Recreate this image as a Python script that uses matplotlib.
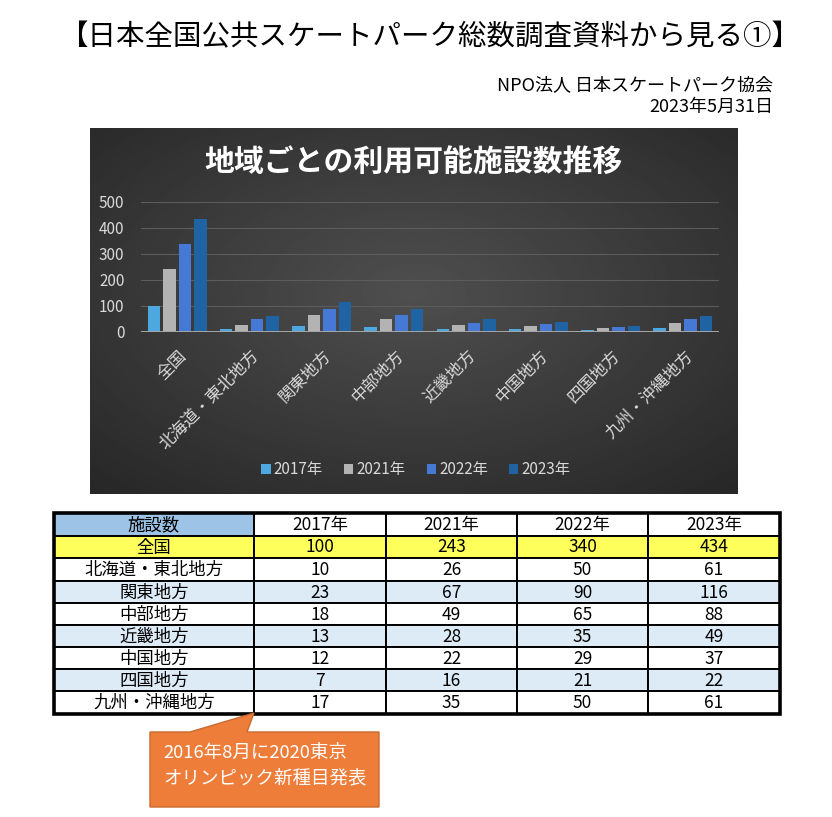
import numpy as np
import matplotlib as mpl
mpl.use('Agg')
import matplotlib.pyplot as plt
from matplotlib.patches import Rectangle, Polygon
from matplotlib.transforms import ScaledTranslation

plt.rcParams['font.family'] = ['Noto Sans CJK JP', 'DejaVu Sans']

W, H = 832, 817

regions = ['全国', '北海道・東北地方', '関東地方', '中部地方', '近畿地方',
           '中国地方', '四国地方', '九州・沖縄地方']
years = ['2017年', '2021年', '2022年', '2023年']
v2017 = [100, 10, 23, 18, 13, 12, 7, 17]
v2021 = [243, 26, 67, 49, 28, 22, 16, 35]
v2022 = [340, 50, 90, 65, 35, 29, 21, 50]
v2023 = [434, 61, 116, 88, 49, 37, 22, 61]
series = [v2017, v2021, v2022, v2023]
yticks = [0, 100, 200, 300, 400, 500]

main_title = '【日本全国公共スケートパーク総数調査資料から見る①】'
org_text = 'NPO法人 日本スケートパーク協会'
date_text = '2023年5月31日'
chart_title = '地域ごとの利用可能施設数推移'
table_corner = '施設数'
note_lines = ['2016年8月に2020東京', 'オリンピック新種目発表']

bar_colors = ['#4ea8e0', '#b3b3b3', '#4679d6', '#1f63a2']


def box(x0, y0, x1, y1):
    # pixel box (top-left origin) -> figure rect
    return [x0 / W, 1 - y1 / H, (x1 - x0) / W, (y1 - y0) / H]


fig = plt.figure(figsize=(8.32, 8.17), dpi=100)

# overlay in pixel coords for header, table, callout
ov = fig.add_axes([0, 0, 1, 1])
ov.set_xlim(0, W)
ov.set_ylim(H, 0)
ov.axis('off')

ov.text(430, 37, main_title, ha='center', va='center', fontsize=20.5)
ov.text(773, 85, org_text, ha='right', va='center', fontsize=13)
ov.text(773, 107, date_text, ha='right', va='center', fontsize=13)

# chart panel with radial gradient
bg = fig.add_axes(box(90, 128, 738, 494))
yy, xx = np.mgrid[-1:1:200j, -1:1:300j]
r = np.sqrt(xx**2 + (yy + 0.1)**2) / np.sqrt(2)
grad = 0.31 - 0.15 * r
bg.imshow(grad, cmap='gray', vmin=0, vmax=1, aspect='auto',
          extent=[0, 1, 0, 1], interpolation='bilinear')
bg.set_xticks([])
bg.set_yticks([])
for s in bg.spines.values():
    s.set_visible(False)

bg.text((414 - 90) / (738 - 90), 1 - (162 - 128) / (494 - 128), chart_title,
        transform=bg.transAxes, ha='center', va='center', color='white',
        fontsize=21.5, fontweight='bold')

ax = fig.add_axes(box(141, 202, 719, 332))
ax.patch.set_alpha(0)
x = np.arange(len(regions))
pitch, bw = 0.214, 0.172
handles = []
for i, (vals, col, yr) in enumerate(zip(series, bar_colors, years)):
    b = ax.bar(x + (i - 1.5) * pitch, vals, width=bw, color=col, label=yr, zorder=3)
    handles.append(b)
ax.set_xlim(-0.5, len(regions) - 0.5)
ax.set_ylim(0, 500)
ax.set_yticks(yticks)
ax.set_yticklabels([str(t) for t in yticks])
for t in yticks[1:]:
    ax.axhline(t, color='#5c5c5c', lw=0.8, zorder=1)
ax.axhline(0, color='#a6a6a6', lw=1.4, zorder=4)
for s in ax.spines.values():
    s.set_visible(False)
ax.tick_params(axis='y', length=0, pad=12, labelsize=11, labelcolor='#d9d9d9')
ax.tick_params(axis='x', length=0, pad=11, labelsize=12, labelcolor='#d9d9d9')
ax.set_xticks(x)
ax.set_xticklabels(regions, rotation=45, ha='right', va='top', rotation_mode='anchor')
off = ScaledTranslation(1 / 72, 0, fig.dpi_scale_trans)
for lab in ax.get_xticklabels():
    lab.set_transform(lab.get_transform() + off)

fig.legend(handles=handles, loc='center', bbox_to_anchor=(416 / W, 1 - 470 / H),
           ncol=4, frameon=False, handlelength=0.6, handleheight=0.6,
           handletextpad=0.2, columnspacing=1.4, fontsize=11, labelcolor='#d9d9d9')

# table
col_edges = [54, 254, 386, 517, 648, 780]
row_edges = [513, 536, 558, 581, 603, 625, 647, 669, 691, 714]
header = [table_corner] + years
rows = [header] + [[reg] + [str(s[k]) for s in series] for k, reg in enumerate(regions)]

for ri, row in enumerate(rows):
    y0, y1 = row_edges[ri], row_edges[ri + 1]
    for ci, val in enumerate(row):
        x0, x1 = col_edges[ci], col_edges[ci + 1]
        if ri == 0:
            fc = '#9dc3e6' if ci == 0 else 'white'
        elif ri == 1:
            fc = '#ffff5c'
        elif ri % 2 == 1:
            fc = '#ddebf7'
        else:
            fc = 'white'
        ov.add_patch(Rectangle((x0, y0), x1 - x0, y1 - y0, facecolor=fc,
                               edgecolor='black', lw=1.4, zorder=2))
        ov.text((x0 + x1) / 2, (y0 + y1) / 2 + 0.5, val, ha='center', va='center',
                fontsize=12.5, zorder=3)
ov.add_patch(Rectangle((col_edges[0], row_edges[0]), col_edges[-1] - col_edges[0],
                       row_edges[-1] - row_edges[0], fill=False, edgecolor='black',
                       lw=2.6, zorder=4))

# callout
pts = [(150, 732), (190, 732), (254, 713), (247, 732), (379, 732), (379, 807), (150, 807)]
ov.add_patch(Polygon(pts, closed=True, facecolor='#ee7d3a', edgecolor='#c9692f',
                     lw=1.0, zorder=5))
ov.text(163, 753, note_lines[0], ha='left', va='center', color='white',
        fontsize=13.3, zorder=6)
ov.text(163, 778, note_lines[1], ha='left', va='center', color='white',
        fontsize=13.3, zorder=6)

fig.savefig('out.png', dpi=100, facecolor='white')
